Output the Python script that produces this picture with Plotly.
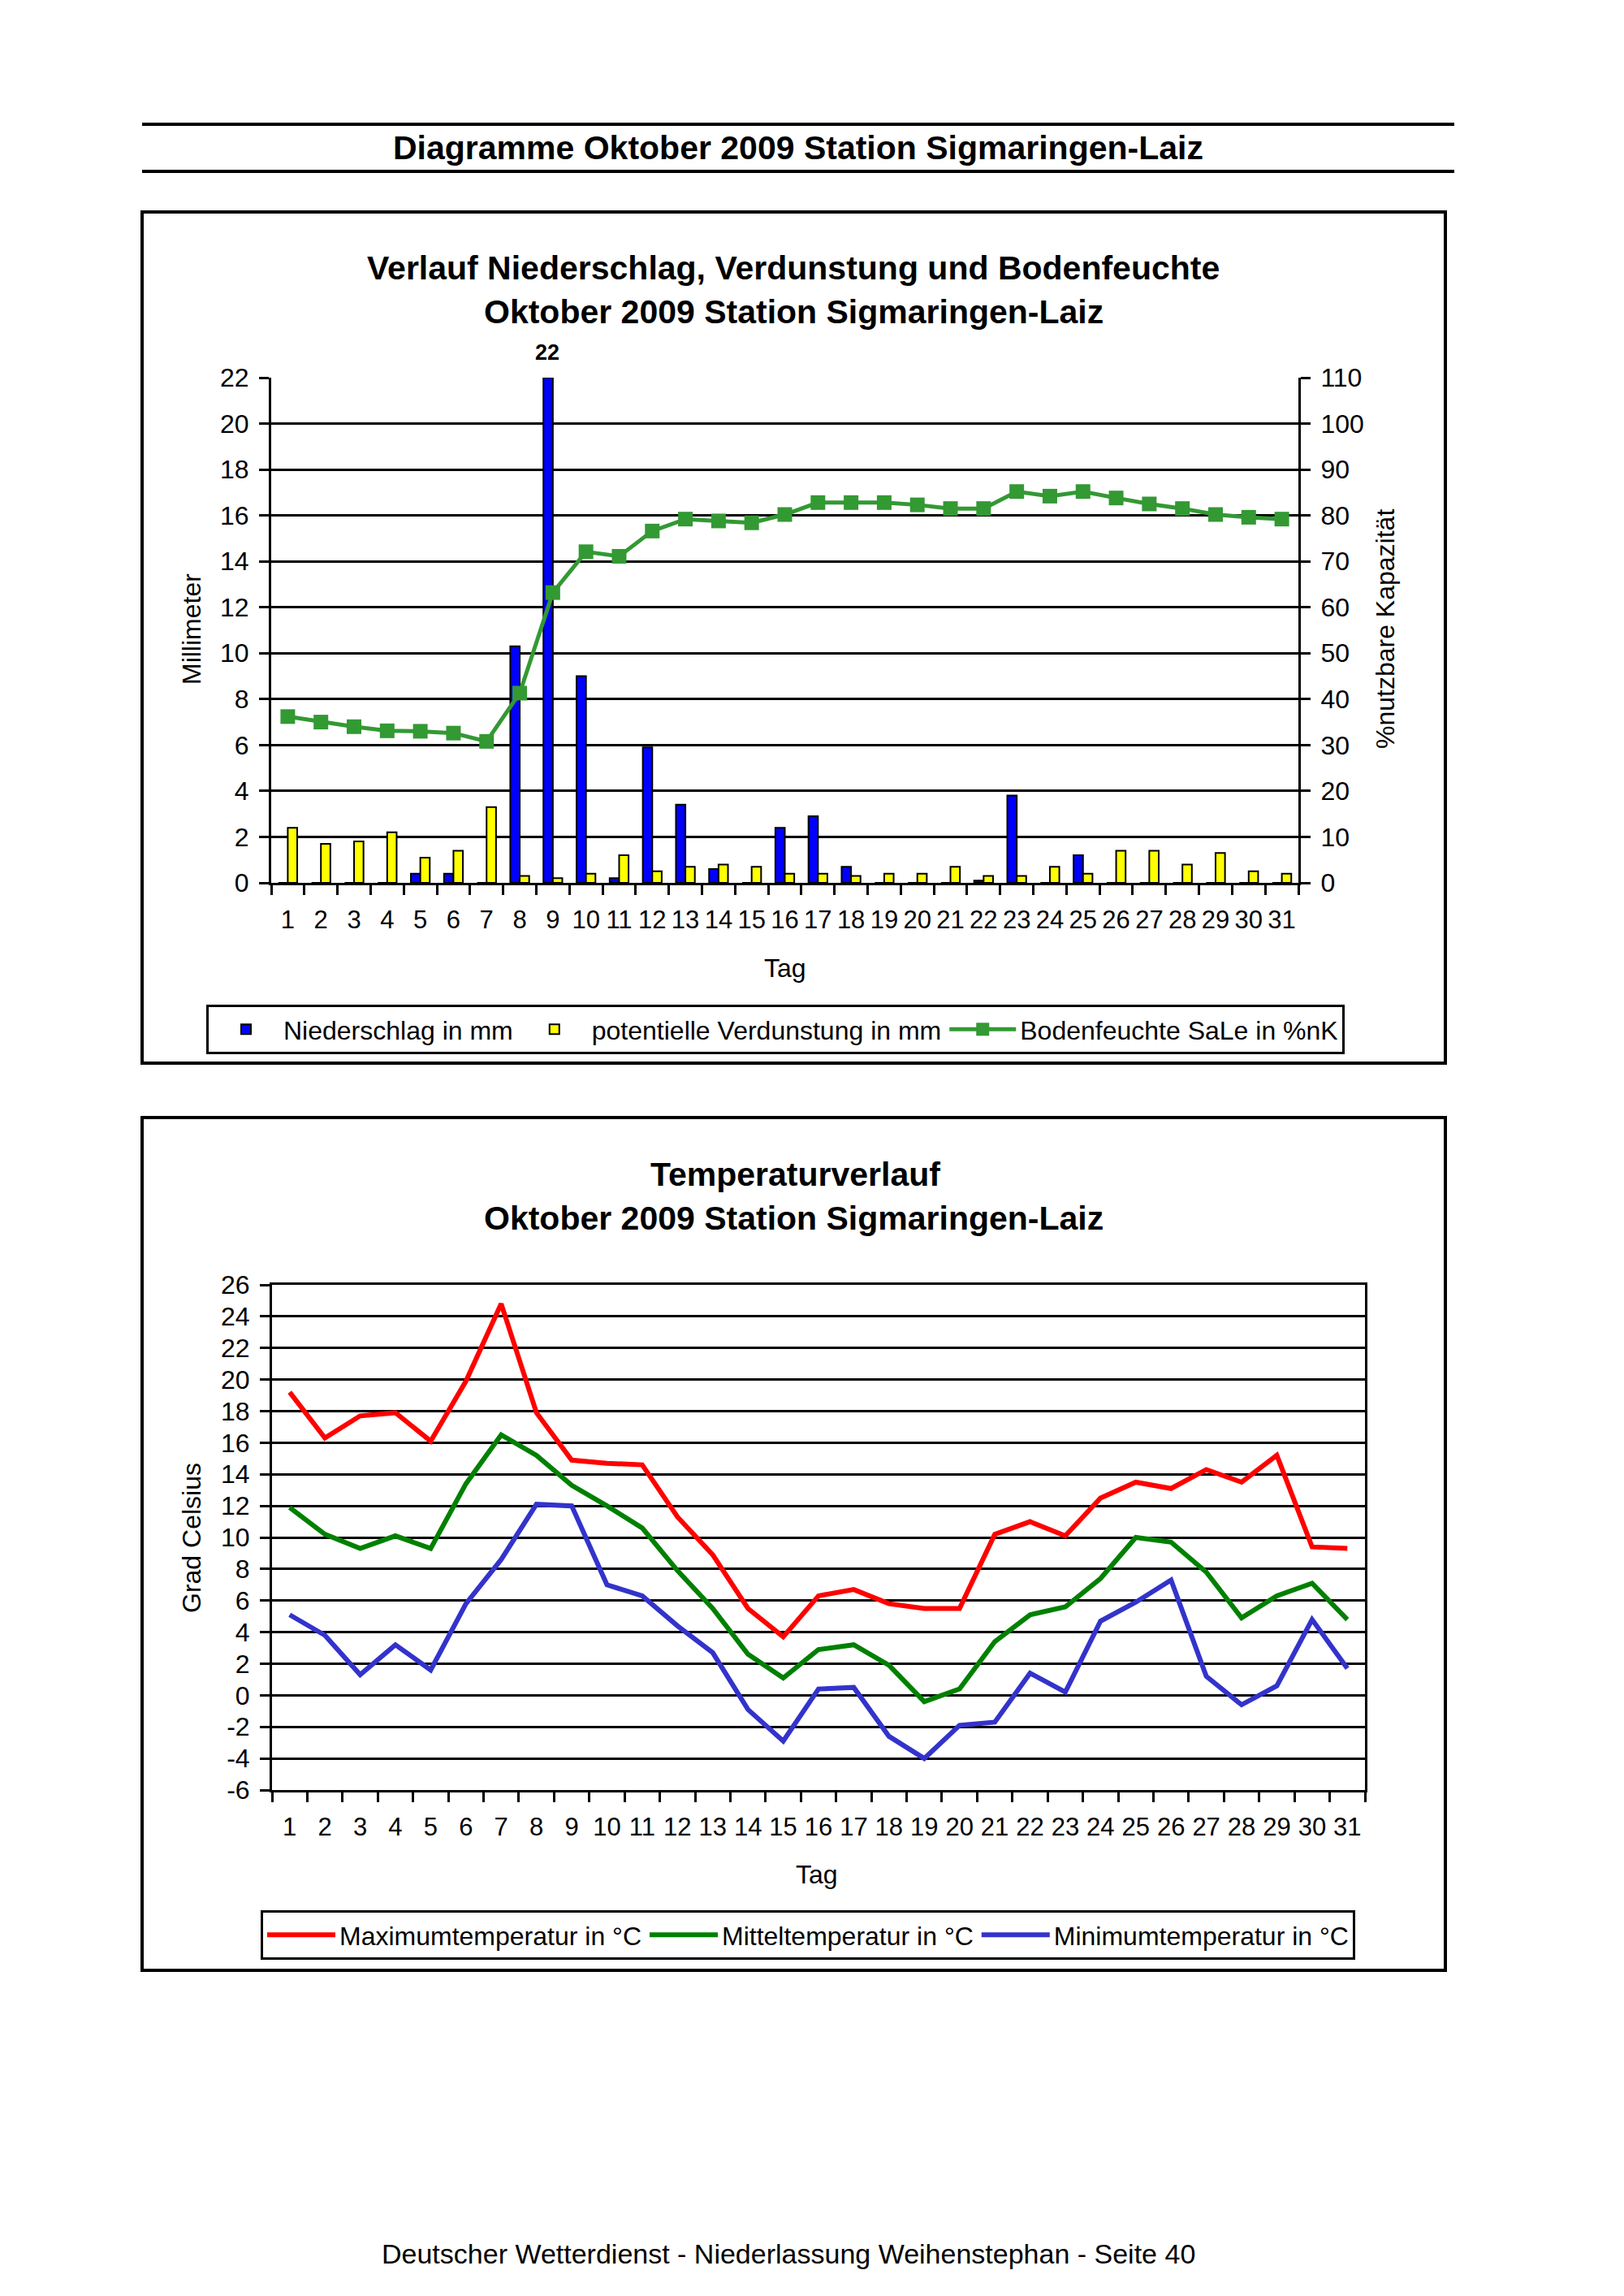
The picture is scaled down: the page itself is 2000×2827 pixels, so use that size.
import plotly.graph_objects as go

W, H = 2000, 2827

days = [str(d) for d in range(1, 32)]

niederschlag = [0, 0, 0, 0, 0.4, 0.4, 0, 10.3, 22.0, 9.0, 0.2, 5.9, 3.4, 0.6, 0, 2.4,
                2.9, 0.7, 0, 0, 0, 0.1, 3.8, 0, 1.2, 0, 0, 0, 0, 0, 0]
verdunstung = [2.4, 1.7, 1.8, 2.2, 1.1, 1.4, 3.3, 0.3, 0.2, 0.4, 1.2, 0.5, 0.7, 0.8, 0.7, 0.4,
               0.4, 0.3, 0.4, 0.4, 0.7, 0.3, 0.3, 0.7, 0.4, 1.4, 1.4, 0.8, 1.3, 0.5, 0.4]
bodenfeuchte = [36.2, 35.0, 34.0, 33.1, 33.0, 32.6, 30.8, 41.3, 63.2, 72.1, 71.1, 76.6, 79.2, 78.8,
                78.4, 80.2, 82.8, 82.8, 82.8, 82.3, 81.5, 81.5, 85.2, 84.2, 85.2, 83.8, 82.5, 81.5,
                80.2, 79.6, 79.2]

t_max = [19.2, 16.3, 17.7, 17.9, 16.1, 19.9, 24.8, 17.9, 14.9, 14.7, 14.6, 11.3, 8.9, 5.5, 3.7, 6.3,
         6.7, 5.8, 5.5, 5.5, 10.2, 11.0, 10.1, 12.5, 13.5, 13.1, 14.3, 13.5, 15.2, 9.4, 9.3]
t_mittel = [11.9, 10.2, 9.3, 10.1, 9.3, 13.4, 16.5, 15.2, 13.3, 12.0, 10.6, 7.9, 5.5, 2.6, 1.1, 2.9,
            3.2, 1.9, -0.4, 0.4, 3.4, 5.1, 5.6, 7.4, 10.0, 9.7, 7.8, 4.9, 6.3, 7.1, 4.8]
t_min = [5.1, 3.8, 1.3, 3.2, 1.6, 5.8, 8.6, 12.1, 12.0, 7.0, 6.3, 4.4, 2.7, -0.9, -2.9, 0.4,
         0.5, -2.6, -4.0, -1.9, -1.7, 1.4, 0.2, 4.7, 5.9, 7.3, 1.2, -0.6, 0.6, 4.8, 1.7]

temp_ticks = list(range(-6, 27, 2))

FONT = "Arial, 'Liberation Sans', sans-serif"


def px_x(x):
    return x / W


def px_y(y):
    return 1 - y / H


fig = go.Figure()

# ---- top chart ----
fig.add_trace(go.Bar(x=days, y=niederschlag, name="Niederschlag in mm",
                     marker=dict(color="#0000FF", line=dict(color="black", width=2)),
                     xaxis="x", yaxis="y", legend="legend"))
fig.add_trace(go.Bar(x=days, y=verdunstung, name="potentielle Verdunstung in mm",
                     marker=dict(color="#FFFF00", line=dict(color="black", width=2)),
                     xaxis="x", yaxis="y", legend="legend"))
fig.add_trace(go.Scatter(x=days, y=bodenfeuchte, name="Bodenfeuchte SaLe in %nK",
                         mode="lines+markers",
                         line=dict(color="#339933", width=5),
                         marker=dict(symbol="square", size=18, color="#339933"),
                         xaxis="x", yaxis="y2", legend="legend"))

# ---- bottom chart ----
fig.add_trace(go.Scatter(x=days, y=t_max, name="Maximumtemperatur in °C", mode="lines",
                         line=dict(color="#FF0000", width=6), xaxis="x2", yaxis="y3",
                         legend="legend2"))
fig.add_trace(go.Scatter(x=days, y=t_mittel, name="Mitteltemperatur in °C", mode="lines",
                         line=dict(color="#008000", width=6), xaxis="x2", yaxis="y3",
                         legend="legend2"))
fig.add_trace(go.Scatter(x=days, y=t_min, name="Minimumtemperatur in °C", mode="lines",
                         line=dict(color="#3333CC", width=6), xaxis="x2", yaxis="y3",
                         legend="legend2"))

tickfont = dict(family=FONT, size=32, color="black")
xtickfont = dict(family=FONT, size=31, color="black")

xcommon = dict(type="category", tickson="boundaries", ticks="outside", ticklen=12,
               tickwidth=3, tickcolor="black", showline=True, linewidth=3, linecolor="black",
               showgrid=False, tickfont=xtickfont, zeroline=False, ticklabelstandoff=16,
               tickmode="linear", dtick=1, tick0=0, tickangle=0, automargin=False,
               range=[-0.5, len(days) - 0.5])

ycommon = dict(ticks="outside", ticklen=12, tickwidth=3, tickcolor="black", showline=True,
               linewidth=3, linecolor="black", showgrid=True, gridcolor="black", gridwidth=3,
               tickfont=tickfont, zeroline=False, ticklabelstandoff=6, automargin=False)

fig.update_layout(
    template="none",
    width=W, height=H,
    margin=dict(l=0, r=0, t=0, b=0, pad=0, autoexpand=False),
    paper_bgcolor="white", plot_bgcolor="white",
    font=dict(family=FONT, size=32, color="black"),
    barmode="group", bargap=0.43, bargroupgap=0,
    xaxis=dict(domain=[px_x(334), px_x(1599)], anchor="y", **xcommon),
    yaxis=dict(domain=[px_y(1087), px_y(465)], anchor="x", range=[0, 22], dtick=2, **ycommon),
    yaxis2=dict(overlaying="y", side="right", anchor="x", range=[0, 110], dtick=10,
                ticks="outside", ticklen=12, tickwidth=3, tickcolor="black", showline=True,
                linewidth=3, linecolor="black", showgrid=False, tickfont=tickfont,
                zeroline=False, ticklabelstandoff=6, automargin=False),
    xaxis2=dict(domain=[px_x(335), px_x(1681)], anchor="y3", mirror=True, **xcommon),
    yaxis3=dict(domain=[px_y(2204), px_y(1582)], anchor="x2", range=[-6, 26],
                tickmode="array", tickvals=temp_ticks, ticktext=[str(v) for v in temp_ticks],
                mirror=True, **ycommon),
    legend=dict(orientation="h", x=px_x(254), y=px_y(1237), xanchor="left", yanchor="top",
                bgcolor="white", bordercolor="black", borderwidth=3,
                font=dict(family=FONT, size=32, color="black"), itemwidth=82,
                traceorder="normal"),
    legend2=dict(orientation="h", x=px_x(321), y=px_y(2352), xanchor="left", yanchor="top",
                 bgcolor="white", bordercolor="black", borderwidth=3,
                 font=dict(family=FONT, size=32, color="black"), itemwidth=84,
                 traceorder="normal"),
    showlegend=True,
)

shapes = []
# header lines
for yy in (153, 211):
    shapes.append(dict(type="line", xref="paper", yref="paper", x0=px_x(175), x1=px_x(1791),
                       y0=px_y(yy), y1=px_y(yy), line=dict(color="black", width=4)))
# chart frames
for (y0, y1) in ((261, 1309), (1376, 2426)):
    shapes.append(dict(type="rect", xref="paper", yref="paper", x0=px_x(175), x1=px_x(1780),
                       y0=px_y(y1), y1=px_y(y0), line=dict(color="black", width=4),
                       layer="below"))
fig.update_layout(shapes=shapes)

ann = []


def text(x, y, s, size=32, bold=False, angle=0):
    ann.append(dict(xref="paper", yref="paper", x=px_x(x), y=px_y(y), text=f"<b>{s}</b>" if bold else s,
                    showarrow=False, xanchor="center", yanchor="middle", textangle=angle,
                    font=dict(family=FONT, size=size, color="black")))


text(983, 182, "Diagramme Oktober 2009 Station Sigmaringen-Laiz", 41, True)
text(977, 330, "Verlauf Niederschlag, Verdunstung und Bodenfeuchte", 41, True)
text(977, 384, "Oktober 2009 Station Sigmaringen-Laiz", 41, True)
text(236, 775, "Millimeter", 32, angle=-90)
text(1706, 775, "%nutzbare Kapazität", 32, angle=-90)
text(967, 1192, "Tag", 32)
text(979, 1446, "Temperaturverlauf", 41, True)
text(977, 1500, "Oktober 2009 Station Sigmaringen-Laiz", 41, True)
text(236, 1894, "Grad Celsius", 32, angle=-90)
text(1006, 2308, "Tag", 32)
text(971, 2775, "Deutscher Wetterdienst - Niederlassung Weihenstephan - Seite 40", 34)

# label of the maximum precipitation bar (category index on the category axis)
imax = max(range(len(niederschlag)), key=lambda i: niederschlag[i])
ann.append(dict(xref="x", yref="y", x=imax, y=niederschlag[imax],
                text=f"<b>{niederschlag[imax]:g}</b>", showarrow=False, yanchor="bottom",
                xshift=-7, yshift=14, font=dict(family=FONT, size=27, color="black")))

fig.update_layout(annotations=ann)

fig.write_html("out.html", config={"displayModeBar": False},
               post_script="document.body.style.margin='0';")
